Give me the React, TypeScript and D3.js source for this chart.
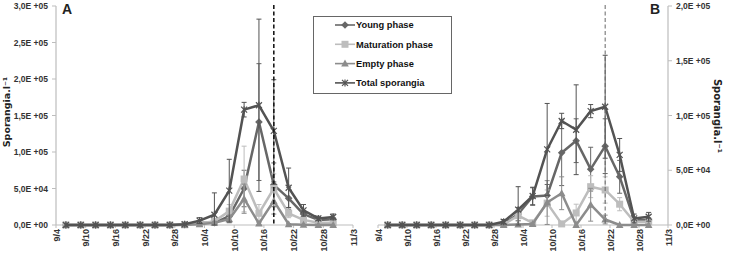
import React, { useRef, useEffect } from 'react';
import * as d3 from 'd3';

// sampling dates (every 3 days) and axis tick dates
const sampleDates = ['9/6', '9/9', '9/12', '9/15', '9/18', '9/21', '9/24', '9/27', '9/30', '10/3', '10/6', '10/9', '10/12', '10/15', '10/18', '10/21', '10/24', '10/27', '10/30'];
const tickDates = ['9/4', '9/10', '9/16', '9/22', '9/28', '10/4', '10/10', '10/16', '10/22', '10/28', '11/3'];

// Panel A
const youngA = [0, 0, 0, 0, 0, 0, 0, 0, 500, 3000, 3000, 12000, 50000, 141000, 55000, 36500, 15000, 7000, 8000];
const youngErrA = [0, 0, 0, 0, 0, 0, 0, 0, 0, 2000, 2000, 6000, 25000, 80000, 30000, 15000, 5000, 2000, 2000];
const maturationA = [0, 0, 0, 0, 0, 0, 0, 0, 300, 2000, 5000, 19000, 63000, 16000, 50000, 16000, 7000, 3000, 3000];
const maturationErrA = [0, 0, 0, 0, 0, 0, 0, 0, 0, 1000, 3000, 9000, 45000, 12000, 20000, 6000, 3000, 1000, 1000];
const emptyA = [0, 0, 0, 0, 0, 0, 0, 0, 200, 1000, 3000, 8000, 36000, 2000, 33000, 1000, 500, 0, 0];
const emptyErrA = [0, 0, 0, 0, 0, 0, 0, 0, 0, 1000, 2000, 5000, 20000, 2000, 18000, 1000, 500, 0, 0];
const totalA = [0, 0, 0, 0, 0, 0, 0, 0, 1000, 6000, 14000, 47000, 158000, 164000, 129000, 51000, 20000, 9000, 11000];
const totalErrA = [0, 0, 0, 0, 0, 0, 0, 0, 500, 4000, 30000, 43000, 10000, 118000, 70000, 27000, 8000, 3000, 4000];

// Panel B
const youngB = [0, 0, 0, 0, 0, 0, 0, 0, 1000, 10000, 26000, 27000, 66000, 77000, 51000, 72000, 44000, 4600, 4600];
const youngErrB = [0, 0, 0, 0, 0, 0, 0, 0, 500, 6000, 8000, 10000, 30000, 20000, 20000, 25000, 15000, 2000, 2000];
const maturationB = [0, 0, 0, 0, 0, 0, 0, 0, 500, 8500, 2000, 20000, 1000, 11000, 35000, 32000, 19000, 3000, 3000];
const maturationErrB = [0, 0, 0, 0, 0, 0, 0, 0, 0, 5000, 2000, 12000, 1000, 8000, 10000, 12000, 6000, 1000, 1000];
const emptyB = [0, 0, 0, 0, 0, 0, 0, 0, 0, 500, 1000, 20500, 29000, 0, 18500, 5000, 0, 0, 0];
const emptyErrB = [0, 0, 0, 0, 0, 0, 0, 0, 0, 500, 1000, 20000, 15000, 0, 15000, 4000, 0, 0, 0];
const totalB = [0, 0, 0, 0, 0, 0, 0, 0, 3000, 14000, 26500, 69000, 95000, 87000, 104000, 108000, 64000, 6000, 7500];
const totalErrB = [0, 0, 0, 0, 0, 0, 0, 0, 2000, 21000, 8000, 42000, 7000, 41000, 6000, 47000, 15000, 4000, 4000];

const seriesNames = ['Young phase', 'Maturation phase', 'Empty phase', 'Total sporangia'];
const seriesColors = ['#676767', '#bdbdbd', '#8c8c8c', '#535353'];

const yTicksA = [0, 50000, 100000, 150000, 200000, 250000, 300000];
const yTicksB = [0, 50000, 100000, 150000, 200000];

type Marker = 'diamond' | 'square' | 'triangle' | 'star';
const markers: Marker[] = ['diamond', 'square', 'triangle', 'star'];

const parseDay = (s: string) => d3.timeParse('%m/%d/%Y')(`${s}/2013`) as Date;

const sciLabel = (v: number) => {
  const exp = v === 0 ? 0 : Math.floor(Math.log10(v));
  const mant = v / Math.pow(10, exp);
  return `${mant.toFixed(1).replace('.', ',')}E +${String(exp).padStart(2, '0')}`;
};

const FONT = "'Liberation Sans', Arial, sans-serif";

const drawMarker = (g: d3.Selection<SVGGElement, unknown, null, undefined>, kind: Marker, x: number, y: number, color: string) => {
  if (kind === 'square') {
    g.append('rect').attr('x', x - 3.5).attr('y', y - 3.5).attr('width', 7).attr('height', 7).attr('fill', color);
  } else if (kind === 'diamond') {
    g.append('path').attr('d', `M${x},${y - 3.8}L${x + 3.8},${y}L${x},${y + 3.8}L${x - 3.8},${y}Z`).attr('fill', color);
  } else if (kind === 'triangle') {
    g.append('path').attr('d', `M${x},${y - 4}L${x + 3.8},${y + 3}L${x - 3.8},${y + 3}Z`).attr('fill', color);
  } else {
    g.append('path')
      .attr('d', `M${x - 3},${y - 3}L${x + 3},${y + 3}M${x - 3},${y + 3}L${x + 3},${y - 3}M${x},${y - 3.5}L${x},${y + 3.5}`)
      .attr('stroke', color).attr('stroke-width', 1.2).attr('fill', 'none');
  }
};

interface Panel {
  x0: number;
  x1: number;
  yMax: number;
  yTicks: number[];
  side: 'left' | 'right';
  values: number[][];
  errors: number[][];
  marker: string;
  dashDate: string;
  dashColor: string;
  dashWidth: number;
}

const App: React.FC = () => {
  const svgRef = useRef<SVGSVGElement | null>(null);

  useEffect(() => {
    if (!svgRef.current) return;
    const svg = d3.select(svgRef.current);
    svg.selectAll('*').remove();

    const yTop = 6;
    const yBottom = 225;
    const dates = sampleDates.map(parseDay);
    const ticks = tickDates.map(parseDay);

    const panels: Panel[] = [
      {
        x0: 56, x1: 353, yMax: 300000, yTicks: yTicksA, side: 'left',
        values: [youngA, maturationA, emptyA, totalA],
        errors: [youngErrA, maturationErrA, emptyErrA, totalErrA],
        marker: 'A', dashDate: '10/18', dashColor: '#1a1a1a', dashWidth: 1.6,
      },
      {
        x0: 378, x1: 668, yMax: 200000, yTicks: yTicksB, side: 'right',
        values: [youngB, maturationB, emptyB, totalB],
        errors: [youngErrB, maturationErrB, emptyErrB, totalErrB],
        marker: 'B', dashDate: '10/21', dashColor: '#666', dashWidth: 1,
      },
    ];

    panels.forEach(p => {
      const x = d3.scaleTime().domain([ticks[0], ticks[ticks.length - 1]]).range([p.x0, p.x1]);
      const y = d3.scaleLinear().domain([0, p.yMax]).range([yBottom, yTop]);
      const g = svg.append('g');

      // x axis
      g.append('line').attr('x1', p.x0).attr('x2', p.x1).attr('y1', yBottom).attr('y2', yBottom)
        .attr('stroke', '#bdbdbd').attr('stroke-width', 1.2);
      ticks.forEach((t, i) => {
        const tx = x(t);
        g.append('line').attr('x1', tx).attr('x2', tx).attr('y1', yBottom).attr('y2', yBottom + 3)
          .attr('stroke', '#bdbdbd');
        g.append('text')
          .attr('transform', `translate(${tx + 3.5},${yBottom + 4}) rotate(-90)`)
          .attr('text-anchor', 'end')
          .attr('font-family', FONT).attr('font-weight', 'bold').attr('font-size', 9)
          .attr('fill', '#333')
          .text(tickDates[i]);
      });

      // y axis
      const ax = p.side === 'left' ? p.x0 : p.x1;
      const dir = p.side === 'left' ? -1 : 1;
      g.append('line').attr('x1', ax).attr('x2', ax).attr('y1', yTop).attr('y2', yBottom)
        .attr('stroke', '#bdbdbd').attr('stroke-width', 1.2);
      p.yTicks.forEach(v => {
        const ty = y(v);
        g.append('line').attr('x1', ax).attr('x2', ax + dir * 4).attr('y1', ty).attr('y2', ty).attr('stroke', '#bdbdbd');
        g.append('text')
          .attr('x', ax + dir * 8).attr('y', ty + 3)
          .attr('text-anchor', p.side === 'left' ? 'end' : 'start')
          .attr('font-family', FONT).attr('font-weight', 'bold').attr('font-size', 8.5)
          .attr('fill', '#333')
          .text(sciLabel(v));
      });

      // panel letter
      g.append('text')
        .attr('x', p.side === 'left' ? p.x0 + 6 : p.x1 - 18).attr('y', 14)
        .attr('font-family', FONT).attr('font-weight', 'bold').attr('font-size', 14)
        .attr('fill', '#222')
        .text(p.marker);

      // series: error bars, line, markers
      p.values.forEach((vals, si) => {
        const color = seriesColors[si];
        const errs = p.errors[si];
        const sg = g.append('g');
        vals.forEach((v, i) => {
          const e = errs[i];
          if (e <= 0) return;
          const px = x(dates[i]);
          const hi = y(v + e);
          const lo = y(Math.max(0, v - e));
          sg.append('line').attr('x1', px).attr('x2', px).attr('y1', hi).attr('y2', lo).attr('stroke', color).attr('stroke-width', 1);
          [hi, lo].forEach(cy => {
            sg.append('line').attr('x1', px - 2.5).attr('x2', px + 2.5).attr('y1', cy).attr('y2', cy).attr('stroke', color).attr('stroke-width', 1);
          });
        });
        const line = d3.line<number>().x((_, i) => x(dates[i])).y(v => y(v));
        sg.append('path').attr('d', line(vals)).attr('fill', 'none').attr('stroke', color)
          .attr('stroke-width', 2.5).attr('stroke-linejoin', 'round');
        vals.forEach((v, i) => drawMarker(sg, markers[si], x(dates[i]), y(v), color));
      });

      // dashed reference line
      const dx = x(parseDay(p.dashDate));
      g.append('line').attr('x1', dx).attr('x2', dx).attr('y1', 5).attr('y2', yBottom)
        .attr('stroke', p.dashColor).attr('stroke-width', p.dashWidth).attr('stroke-dasharray', '4,2.5');
    });

    // axis titles
    svg.append('text')
      .attr('transform', 'translate(10,112) rotate(-90)')
      .attr('text-anchor', 'middle')
      .attr('font-family', "'DejaVu Sans', sans-serif").attr('font-weight', 'bold').attr('font-size', 9.5)
      .attr('fill', '#222')
      .text('Sporangia.l⁻¹');
    svg.append('text')
      .attr('transform', 'translate(714,116) rotate(90)')
      .attr('text-anchor', 'middle')
      .attr('font-family', "'DejaVu Sans', sans-serif").attr('font-weight', 'bold').attr('font-size', 10)
      .attr('fill', '#222')
      .text('Sporangia.l⁻¹');

    // legend
    const lg = svg.append('g');
    lg.append('rect').attr('x', 313.5).attr('y', 16.5).attr('width', 138).attr('height', 77)
      .attr('fill', '#fff').attr('stroke', '#666').attr('stroke-width', 1);
    seriesNames.forEach((name, i) => {
      const ly = 25 + i * 19.3;
      lg.append('line').attr('x1', 335).attr('x2', 355).attr('y1', ly).attr('y2', ly)
        .attr('stroke', seriesColors[i]).attr('stroke-width', 1.6);
      drawMarker(lg, markers[i], 345, ly, seriesColors[i]);
      lg.append('text').attr('x', 356).attr('y', ly + 3.3)
        .attr('font-family', FONT).attr('font-weight', 'bold').attr('font-size', 9.3)
        .attr('fill', '#111')
        .text(name);
    });
  }, []);

  return (
    <svg
      ref={svgRef}
      width={735}
      height={256}
      style={{ position: 'absolute', left: 0, top: 0, background: '#fff' }}
    />
  );
};

export default App;
